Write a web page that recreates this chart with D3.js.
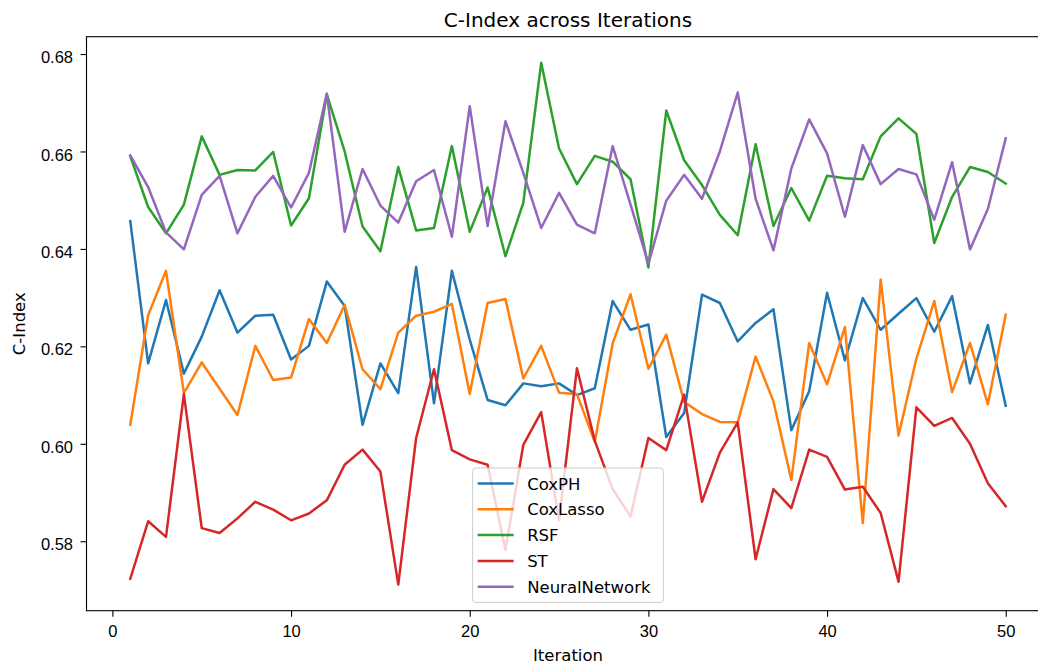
<!DOCTYPE html>
<html lang="en">
<head>
  <meta charset="UTF-8">
  <title>C-Index across Iterations</title>
  <script src="https://d3js.org/d3.v7.min.js"></script>
  <style>
    body {
      margin: 0;
      overflow: hidden;
      background: #ffffff;
    }
    svg {
      display: block;
      background-color: #ffffff;
      font-family: "DejaVu Sans", sans-serif;
    }
    .axis text {
      font-size: 16.5px;
      fill: #000;
    }
    .axis path, .axis line {
      stroke: #000;
      stroke-width: 1.1;
    }
  </style>
</head>
<body>
  <svg width="1038" height="667"></svg>

  <script>
    // x values (iteration number)
    const iterations = [1, 2, 3, 4, 5, 6, 7, 8, 9, 10,
      11, 12, 13, 14, 15, 16, 17, 18, 19, 20,
      21, 22, 23, 24, 25, 26, 27, 28, 29, 30,
      31, 32, 33, 34, 35, 36, 37, 38, 39, 40,
      41, 42, 43, 44, 45, 46, 47, 48, 49, 50];

    const coxPH = [0.6457, 0.6165, 0.6295, 0.6144, 0.6220, 0.6315, 0.6228, 0.6263, 0.6265, 0.6173,
      0.6201, 0.6333, 0.6283, 0.6039, 0.6165, 0.6104, 0.6363, 0.6083, 0.6355, 0.6214,
      0.6090, 0.6079, 0.6124, 0.6118, 0.6124, 0.6100, 0.6114, 0.6293, 0.6234, 0.6245,
      0.6014, 0.6063, 0.6306, 0.6289, 0.6210, 0.6248, 0.6276, 0.6028, 0.6108, 0.6310,
      0.6171, 0.6299, 0.6234, 0.6267, 0.6299, 0.6230, 0.6303, 0.6124, 0.6244, 0.6078];

    const coxLasso = [0.6039, 0.6264, 0.6355, 0.6104, 0.6167, 0.6113, 0.6059, 0.6201, 0.6131, 0.6136,
      0.6256, 0.6207, 0.6285, 0.6153, 0.6112, 0.6228, 0.6263, 0.6271, 0.6287, 0.6102,
      0.6289, 0.6297, 0.6134, 0.6201, 0.6105, 0.6102, 0.6004, 0.6206, 0.6307, 0.6154,
      0.6224, 0.6086, 0.6061, 0.6045, 0.6044, 0.6179, 0.6087, 0.5926, 0.6207, 0.6122,
      0.6240, 0.5837, 0.6337, 0.6017, 0.6175, 0.6293, 0.6106, 0.6207, 0.6081, 0.6265];

    const rsf = [0.6590, 0.6486, 0.6432, 0.6491, 0.6631, 0.6552, 0.6562, 0.6561, 0.6599, 0.6448,
      0.6504, 0.6717, 0.6600, 0.6446, 0.6395, 0.6568, 0.6438, 0.6443, 0.6611, 0.6435,
      0.6526, 0.6385, 0.6495, 0.6782, 0.6606, 0.6533, 0.6591, 0.6579, 0.6543, 0.6362,
      0.6684, 0.6582, 0.6531, 0.6470, 0.6428, 0.6615, 0.6447, 0.6525, 0.6458, 0.6550,
      0.6545, 0.6543, 0.6631, 0.6668, 0.6636, 0.6412, 0.6507, 0.6568, 0.6558, 0.6534];

    const st = [0.5723, 0.5841, 0.5809, 0.6102, 0.5827, 0.5817, 0.5847, 0.5881, 0.5865, 0.5843,
      0.5857, 0.5884, 0.5957, 0.5988, 0.5943, 0.5711, 0.6012, 0.6153, 0.5987, 0.5968,
      0.5957, 0.5782, 0.5998, 0.6065, 0.5843, 0.6155, 0.6006, 0.5907, 0.5851, 0.6012,
      0.5987, 0.6101, 0.5881, 0.5982, 0.6044, 0.5763, 0.5907, 0.5868, 0.5988, 0.5973,
      0.5906, 0.5912, 0.5858, 0.5717, 0.6075, 0.6037, 0.6053, 0.6000, 0.5919, 0.5872];

    const neuralNetwork = [0.6592, 0.6527, 0.6434, 0.6399, 0.6511, 0.6550, 0.6432, 0.6507, 0.6550, 0.6485,
      0.6556, 0.6719, 0.6435, 0.6564, 0.6489, 0.6454, 0.6539, 0.6562, 0.6425, 0.6693,
      0.6447, 0.6662, 0.6556, 0.6443, 0.6515, 0.6450, 0.6432, 0.6611, 0.6491, 0.6370,
      0.6499, 0.6552, 0.6503, 0.6600, 0.6721, 0.6503, 0.6397, 0.6565, 0.6666, 0.6596,
      0.6466, 0.6613, 0.6533, 0.6564, 0.6553, 0.6460, 0.6578, 0.6399, 0.6482, 0.6627];

    const seriesNames = ["CoxPH", "CoxLasso", "RSF", "ST", "NeuralNetwork"];
    const seriesValues = [coxPH, coxLasso, rsf, st, neuralNetwork];
    const colors = ["#1f77b4", "#ff7f0e", "#2ca02c", "#d62728", "#9467bd"];

    const xTicks = [0, 10, 20, 30, 40, 50];
    const yTicks = [0.58, 0.60, 0.62, 0.64, 0.66, 0.68];

    // axes box (right edge falls just outside the picture, as in the original)
    const plotLeft = 86.5, plotTop = 36.7, plotRight = 1049.5, plotBottom = 610.7;

    const svg = d3.select("svg");

    // matplotlib style 5% margins
    const xExt = d3.extent(iterations);
    const xPad = (xExt[1] - xExt[0]) * 0.05;
    const x = d3.scaleLinear()
      .domain([xExt[0] - xPad, xExt[1] + xPad])
      .range([plotLeft, plotRight]);

    const yExt = d3.extent(seriesValues.flat());
    const yPad = (yExt[1] - yExt[0]) * 0.05;
    const y = d3.scaleLinear()
      .domain([yExt[0] - yPad, yExt[1] + yPad])
      .range([plotBottom, plotTop]);

    // lines
    const line = d3.line()
      .x((d, i) => x(iterations[i]))
      .y(d => y(d));

    svg.append("g")
      .selectAll("path")
      .data(seriesValues)
      .join("path")
      .attr("d", line)
      .attr("fill", "none")
      .attr("stroke", (d, i) => colors[i])
      .attr("stroke-width", 2.5)
      .attr("stroke-linejoin", "round")
      .attr("stroke-linecap", "square");

    // frame
    svg.append("rect")
      .attr("x", plotLeft)
      .attr("y", plotTop)
      .attr("width", plotRight - plotLeft)
      .attr("height", plotBottom - plotTop)
      .attr("fill", "none")
      .attr("stroke", "#000")
      .attr("stroke-width", 1.1);

    // x axis
    const xAxis = svg.append("g")
      .attr("class", "axis")
      .attr("transform", `translate(0,${plotBottom})`)
      .call(d3.axisBottom(x).tickValues(xTicks).tickSize(6).tickSizeOuter(0).tickFormat(d3.format("d")));
    xAxis.select(".domain").remove();
    xAxis.selectAll("text")
      .attr("y", 26)
      .attr("dy", null);

    // y axis
    const yAxis = svg.append("g")
      .attr("class", "axis")
      .attr("transform", `translate(${plotLeft},0)`)
      .call(d3.axisLeft(y).tickValues(yTicks).tickSize(6).tickSizeOuter(0).tickFormat(d3.format(".2f")));
    yAxis.select(".domain").remove();
    yAxis.selectAll("text")
      .attr("x", -13.5)
      .attr("y", 8.6)
      .attr("dy", null);

    // title and labels
    const midX = (plotLeft + plotRight) / 2;
    svg.append("text")
      .attr("x", midX)
      .attr("y", 27)
      .attr("text-anchor", "middle")
      .attr("font-size", "20px")
      .text("C-Index across Iterations");

    svg.append("text")
      .attr("x", midX)
      .attr("y", 661)
      .attr("text-anchor", "middle")
      .attr("font-size", "16.5px")
      .text("Iteration");

    svg.append("text")
      .attr("transform", `translate(25,${(plotTop + plotBottom) / 2}) rotate(-90)`)
      .attr("text-anchor", "middle")
      .attr("font-size", "16.5px")
      .text("C-Index");

    // legend (lower center)
    const legW = 190.7, legH = 134.4;
    const legX = midX - legW / 2, legY = plotBottom - 8.3 - legH;
    const legend = svg.append("g").attr("transform", `translate(${legX},${legY})`);

    legend.append("rect")
      .attr("width", legW)
      .attr("height", legH)
      .attr("rx", 3.3)
      .attr("fill", "#ffffff")
      .attr("fill-opacity", 0.8)
      .attr("stroke", "#cccccc")
      .attr("stroke-width", 1);

    const rows = legend.selectAll("g.row")
      .data(seriesNames)
      .join("g")
      .attr("class", "row")
      .attr("transform", (d, i) => `translate(0,${15.5 + i * 25.8})`);

    rows.append("line")
      .attr("x1", 5)
      .attr("x2", 41)
      .attr("stroke", (d, i) => colors[i])
      .attr("stroke-width", 2.5);

    rows.append("text")
      .attr("x", 54.5)
      .attr("y", 6)
      .attr("font-size", "16.5px")
      .text(d => d);
  </script>
</body>
</html>
